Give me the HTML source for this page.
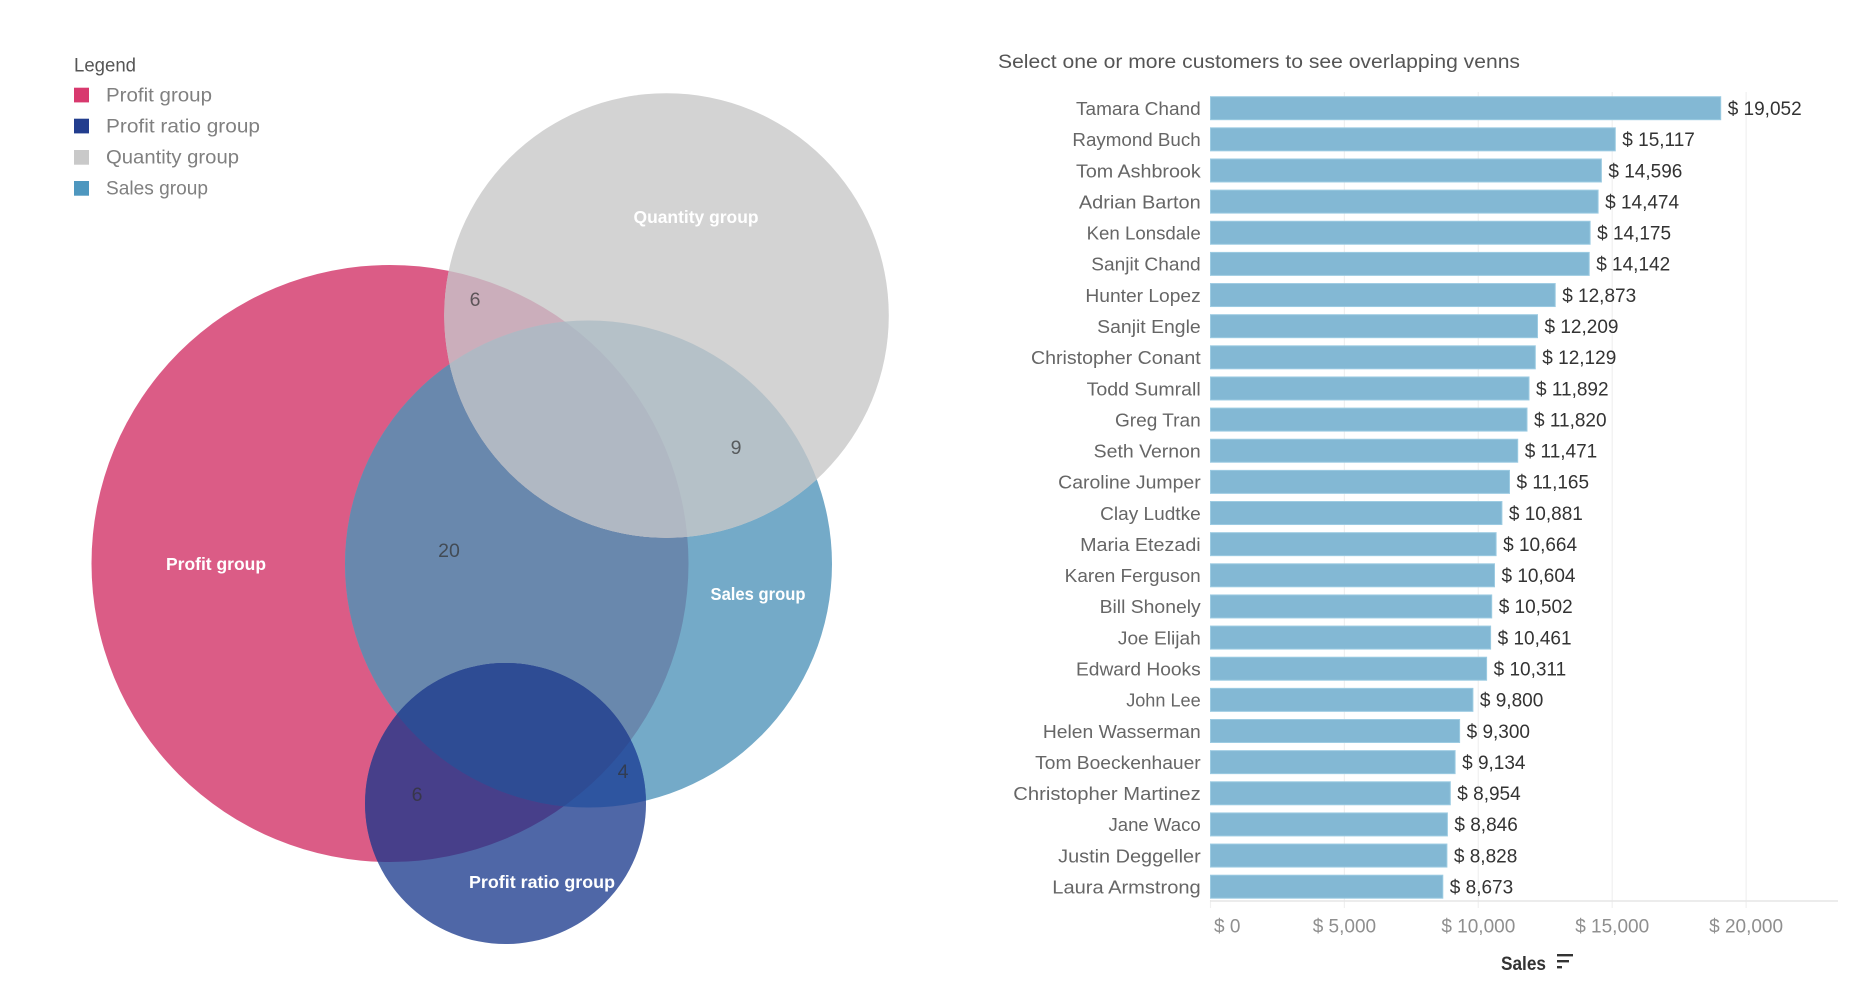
<!DOCTYPE html>
<html>
<head>
<meta charset="utf-8">
<style>
  html, body { margin: 0; padding: 0; background: #ffffff; }
  svg { display: block; font-family: "Liberation Sans", Arial, sans-serif; }
</style>
</head>
<body>
<svg width="1854" height="1002" viewBox="0 0 1854 1002" xmlns="http://www.w3.org/2000/svg">
  <rect x="0" y="0" width="1854" height="1002" fill="#ffffff"/>
  <defs>
    <clipPath id="cP"><circle cx="390" cy="563.5" r="298.5"/></clipPath>
    <clipPath id="cS"><circle cx="588.5" cy="564" r="243.5"/></clipPath>
  </defs>

  <!-- ===== Legend ===== -->
  <text x="74" y="71.5" font-size="19" fill="#555555" textLength="62" lengthAdjust="spacingAndGlyphs">Legend</text>
  <rect x="74" y="87.7" width="15" height="14.7" fill="#d8396e"/>
  <text x="106" y="101.5" font-size="19.5" fill="#808080" textLength="106" lengthAdjust="spacingAndGlyphs">Profit group</text>
  <rect x="74" y="118.7" width="15" height="14.7" fill="#223d8e"/>
  <text x="106" y="132.5" font-size="19.5" fill="#808080" textLength="154" lengthAdjust="spacingAndGlyphs">Profit ratio group</text>
  <rect x="74" y="150" width="15" height="14.7" fill="#c9c9c9"/>
  <text x="106" y="163.5" font-size="19.5" fill="#808080" textLength="133" lengthAdjust="spacingAndGlyphs">Quantity group</text>
  <rect x="74" y="181" width="15" height="14.7" fill="#4e97bf"/>
  <text x="106" y="194.5" font-size="19.5" fill="#808080" textLength="102" lengthAdjust="spacingAndGlyphs">Sales group</text>

  <!-- ===== Venn ===== -->
  <circle cx="390" cy="563.5" r="298.5" fill="#db5c86"/>
  <circle cx="588.5" cy="564" r="243.5" fill="#74aac8"/>
  <g clip-path="url(#cP)"><circle cx="588.5" cy="564" r="243.5" fill="#6988ad"/></g>

  <circle cx="666.5" cy="315.5" r="222.3" fill="#d3d3d3"/>
  <g clip-path="url(#cP)"><circle cx="666.5" cy="315.5" r="222.3" fill="#cbaebb"/></g>
  <g clip-path="url(#cS)"><circle cx="666.5" cy="315.5" r="222.3" fill="#b5c1c8"/></g>
  <g clip-path="url(#cP)"><g clip-path="url(#cS)"><circle cx="666.5" cy="315.5" r="222.3" fill="#b0b8c3"/></g></g>

  <circle cx="505.5" cy="803.5" r="140.5" fill="#4f67a7"/>
  <g clip-path="url(#cP)"><circle cx="505.5" cy="803.5" r="140.5" fill="#473f8a"/></g>
  <g clip-path="url(#cS)"><circle cx="505.5" cy="803.5" r="140.5" fill="#2e55a0"/></g>
  <g clip-path="url(#cP)"><g clip-path="url(#cS)"><circle cx="505.5" cy="803.5" r="140.5" fill="#2e4c94"/></g></g>

  <!-- Venn labels -->
  <g font-size="17.5" font-weight="bold" fill="#ffffff" text-anchor="middle">
    <text x="696" y="223" textLength="125" lengthAdjust="spacingAndGlyphs">Quantity group</text>
    <text x="216" y="570" textLength="100" lengthAdjust="spacingAndGlyphs">Profit group</text>
    <text x="758" y="600" textLength="95" lengthAdjust="spacingAndGlyphs">Sales group</text>
    <text x="542" y="888" textLength="146" lengthAdjust="spacingAndGlyphs">Profit ratio group</text>
  </g>
  <g font-size="19.5" fill="#333333" fill-opacity="0.72" text-anchor="middle">
    <text x="475" y="306">6</text>
    <text x="736" y="454">9</text>
    <text x="449" y="557">20</text>
    <text x="417" y="801">6</text>
    <text x="623" y="778">4</text>
  </g>

  <!-- ===== Bar chart ===== -->
  <text x="998" y="68" font-size="19" fill="#555555" textLength="522" lengthAdjust="spacingAndGlyphs">Select one or more customers to see overlapping venns</text>

  <!-- gridlines -->
  <g stroke="#f0f0f0" stroke-width="1.2">
    <line x1="1344.4" y1="92" x2="1344.4" y2="908"/>
    <line x1="1478.3" y1="92" x2="1478.3" y2="908"/>
    <line x1="1612.2" y1="92" x2="1612.2" y2="908"/>
    <line x1="1746.1" y1="92" x2="1746.1" y2="908"/>
    <line x1="1210.5" y1="900" x2="1210.5" y2="908"/>
  </g>
  <line x1="1210" y1="901" x2="1838" y2="901" stroke="#e6e6e6" stroke-width="1.5"/>

  <!-- bars -->
  <g fill="#83b8d4" stroke="#9ccbe2" stroke-width="1">
    <rect x="1210.5" y="96.7" width="510.2" height="23"/>
    <rect x="1210.5" y="127.84" width="404.8" height="23"/>
    <rect x="1210.5" y="158.98" width="390.9" height="23"/>
    <rect x="1210.5" y="190.12" width="387.6" height="23"/>
    <rect x="1210.5" y="221.26" width="379.6" height="23"/>
    <rect x="1210.5" y="252.4" width="378.7" height="23"/>
    <rect x="1210.5" y="283.54" width="344.7" height="23"/>
    <rect x="1210.5" y="314.68" width="327.0" height="23"/>
    <rect x="1210.5" y="345.82" width="324.8" height="23"/>
    <rect x="1210.5" y="376.96" width="318.5" height="23"/>
    <rect x="1210.5" y="408.1" width="316.5" height="23"/>
    <rect x="1210.5" y="439.24" width="307.2" height="23"/>
    <rect x="1210.5" y="470.38" width="299.0" height="23"/>
    <rect x="1210.5" y="501.52" width="291.4" height="23"/>
    <rect x="1210.5" y="532.66" width="285.6" height="23"/>
    <rect x="1210.5" y="563.8" width="284.0" height="23"/>
    <rect x="1210.5" y="594.94" width="281.2" height="23"/>
    <rect x="1210.5" y="626.08" width="280.1" height="23"/>
    <rect x="1210.5" y="657.22" width="276.1" height="23"/>
    <rect x="1210.5" y="688.36" width="262.4" height="23"/>
    <rect x="1210.5" y="719.5" width="249.1" height="23"/>
    <rect x="1210.5" y="750.64" width="244.6" height="23"/>
    <rect x="1210.5" y="781.78" width="239.8" height="23"/>
    <rect x="1210.5" y="812.92" width="236.9" height="23"/>
    <rect x="1210.5" y="844.06" width="236.4" height="23"/>
    <rect x="1210.5" y="875.2" width="232.3" height="23"/>
  </g>

  <!-- names -->
  <g font-size="18.7" fill="#666666" text-anchor="end">
    <text x="1200.7" y="115.0" textLength="124.7" lengthAdjust="spacingAndGlyphs">Tamara Chand</text>
    <text x="1200.7" y="146.1" textLength="128.3" lengthAdjust="spacingAndGlyphs">Raymond Buch</text>
    <text x="1200.7" y="177.3" textLength="124.7" lengthAdjust="spacingAndGlyphs">Tom Ashbrook</text>
    <text x="1200.7" y="208.4" textLength="121.8" lengthAdjust="spacingAndGlyphs">Adrian Barton</text>
    <text x="1200.7" y="239.6" textLength="114.1" lengthAdjust="spacingAndGlyphs">Ken Lonsdale</text>
    <text x="1200.7" y="270.7" textLength="109.4" lengthAdjust="spacingAndGlyphs">Sanjit Chand</text>
    <text x="1200.7" y="301.8" textLength="115.3" lengthAdjust="spacingAndGlyphs">Hunter Lopez</text>
    <text x="1200.7" y="333.0" textLength="103.5" lengthAdjust="spacingAndGlyphs">Sanjit Engle</text>
    <text x="1200.7" y="364.1" textLength="169.7" lengthAdjust="spacingAndGlyphs">Christopher Conant</text>
    <text x="1200.7" y="395.3" textLength="114.1" lengthAdjust="spacingAndGlyphs">Todd Sumrall</text>
    <text x="1200.7" y="426.4" textLength="85.7" lengthAdjust="spacingAndGlyphs">Greg Tran</text>
    <text x="1200.7" y="457.5" textLength="107" lengthAdjust="spacingAndGlyphs">Seth Vernon</text>
    <text x="1200.7" y="488.7" textLength="142.5" lengthAdjust="spacingAndGlyphs">Caroline Jumper</text>
    <text x="1200.7" y="519.8" textLength="100.5" lengthAdjust="spacingAndGlyphs">Clay Ludtke</text>
    <text x="1200.7" y="551.0" textLength="120.6" lengthAdjust="spacingAndGlyphs">Maria Etezadi</text>
    <text x="1200.7" y="582.1" textLength="136" lengthAdjust="spacingAndGlyphs">Karen Ferguson</text>
    <text x="1200.7" y="613.2" textLength="101.1" lengthAdjust="spacingAndGlyphs">Bill Shonely</text>
    <text x="1200.7" y="644.4" textLength="82.8" lengthAdjust="spacingAndGlyphs">Joe Elijah</text>
    <text x="1200.7" y="675.5" textLength="124.7" lengthAdjust="spacingAndGlyphs">Edward Hooks</text>
    <text x="1200.7" y="706.7" textLength="74.5" lengthAdjust="spacingAndGlyphs">John Lee</text>
    <text x="1200.7" y="737.8" textLength="157.8" lengthAdjust="spacingAndGlyphs">Helen Wasserman</text>
    <text x="1200.7" y="768.9" textLength="165.5" lengthAdjust="spacingAndGlyphs">Tom Boeckenhauer</text>
    <text x="1200.7" y="800.1" textLength="187.4" lengthAdjust="spacingAndGlyphs">Christopher Martinez</text>
    <text x="1200.7" y="831.2" textLength="92.2" lengthAdjust="spacingAndGlyphs">Jane Waco</text>
    <text x="1200.7" y="862.4" textLength="142.5" lengthAdjust="spacingAndGlyphs">Justin Deggeller</text>
    <text x="1200.7" y="893.5" textLength="148.4" lengthAdjust="spacingAndGlyphs">Laura Armstrong</text>
  </g>

  <!-- values -->
  <g font-size="19" fill="#333333">
    <text x="1727.7" y="115.0">$ 19,052</text>
    <text x="1622.3" y="146.1">$ 15,117</text>
    <text x="1608.4" y="177.3">$ 14,596</text>
    <text x="1605.1" y="208.4">$ 14,474</text>
    <text x="1597.1" y="239.6">$ 14,175</text>
    <text x="1596.2" y="270.7">$ 14,142</text>
    <text x="1562.2" y="301.8">$ 12,873</text>
    <text x="1544.5" y="333.0">$ 12,209</text>
    <text x="1542.3" y="364.1">$ 12,129</text>
    <text x="1536.0" y="395.3">$ 11,892</text>
    <text x="1534.0" y="426.4">$ 11,820</text>
    <text x="1524.7" y="457.5">$ 11,471</text>
    <text x="1516.5" y="488.7">$ 11,165</text>
    <text x="1508.9" y="519.8">$ 10,881</text>
    <text x="1503.1" y="551.0">$ 10,664</text>
    <text x="1501.5" y="582.1">$ 10,604</text>
    <text x="1498.7" y="613.2">$ 10,502</text>
    <text x="1497.6" y="644.4">$ 10,461</text>
    <text x="1493.6" y="675.5">$ 10,311</text>
    <text x="1479.9" y="706.7">$ 9,800</text>
    <text x="1466.6" y="737.8">$ 9,300</text>
    <text x="1462.1" y="768.9">$ 9,134</text>
    <text x="1457.3" y="800.1">$ 8,954</text>
    <text x="1454.4" y="831.2">$ 8,846</text>
    <text x="1453.9" y="862.4">$ 8,828</text>
    <text x="1449.8" y="893.5">$ 8,673</text>
  </g>

  <!-- axis tick labels -->
  <g font-size="19" fill="#8f8f8f">
    <text x="1214" y="932.5">$ 0</text>
    <text x="1344.4" y="932.5" text-anchor="middle">$ 5,000</text>
    <text x="1478.3" y="932.5" text-anchor="middle">$ 10,000</text>
    <text x="1612.2" y="932.5" text-anchor="middle">$ 15,000</text>
    <text x="1746.1" y="932.5" text-anchor="middle">$ 20,000</text>
  </g>

  <!-- axis title -->
  <text x="1501" y="970" font-size="19.5" font-weight="bold" fill="#333333" textLength="45" lengthAdjust="spacingAndGlyphs">Sales</text>
  <g fill="#333333">
    <rect x="1557" y="954" width="16" height="2.4"/>
    <rect x="1557" y="960" width="12" height="2.4"/>
    <rect x="1557" y="966" width="5" height="2.4"/>
  </g>
</svg>
</body>
</html>
